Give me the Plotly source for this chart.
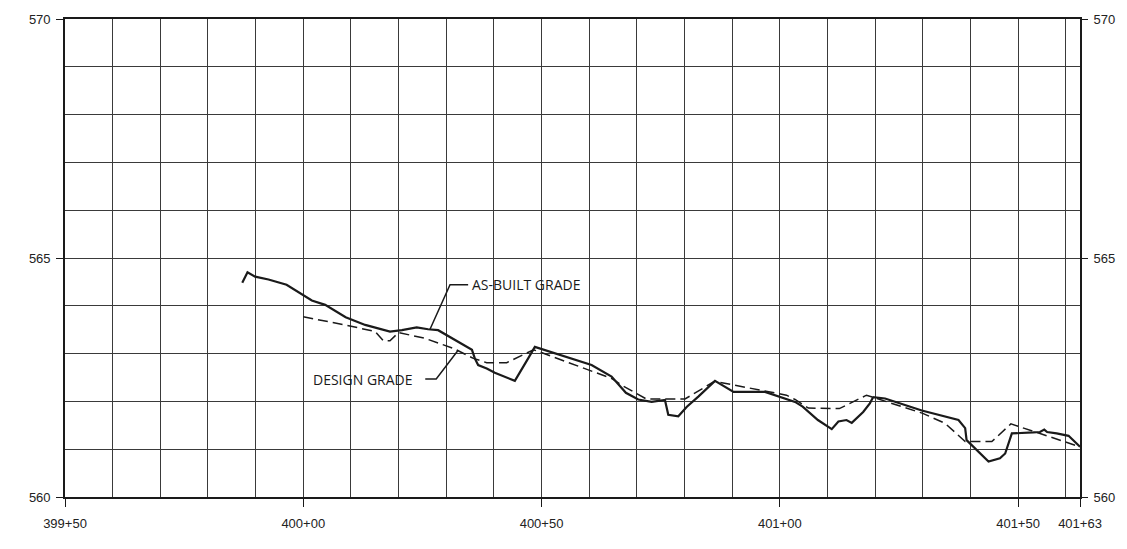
import plotly.graph_objects as go

# ---- data (station in ft, elevation in ft) ----
asbuilt_sta = [39987.2, 39988.3, 39989.9, 39992.7, 39996.5, 40000.8, 40001.8, 40004.6, 40008.9,
               40013.0, 40018.2, 40020.7, 40023.8, 40026.2, 40028.3, 40035.4, 40036.0, 40036.7,
               40038.5, 40040.2, 40044.4, 40047.2, 40048.6, 40060.5, 40064.7, 40067.7, 40070.3,
               40073.1, 40075.9, 40076.6, 40078.7, 40080.5, 40082.9, 40086.4, 40090.3, 40096.9,
               40103.2, 40104.8, 40108.0, 40110.9, 40112.3, 40114.0, 40115.1, 40117.5, 40118.9,
               40119.6, 40122.1, 40129.8, 40137.5, 40138.9, 40139.2, 40143.8, 40146.2, 40147.3,
               40148.7, 40153.2, 40154.6, 40155.5, 40156.1, 40158.1, 40160.6, 40163.0]
asbuilt_elev = [564.48, 564.70, 564.61, 564.55, 564.44, 564.18, 564.11, 564.02, 563.76,
                563.60, 563.46, 563.49, 563.55, 563.51, 563.49, 563.08, 562.90, 562.76,
                562.69, 562.60, 562.43, 562.90, 563.14, 562.76, 562.52, 562.18, 562.04,
                561.99, 562.03, 561.72, 561.69, 561.89, 562.10, 562.43, 562.20, 562.20,
                561.99, 561.89, 561.61, 561.42, 561.58, 561.61, 561.55, 561.78, 561.96,
                562.09, 562.06, 561.81, 561.61, 561.44, 561.19, 560.74, 560.81, 560.91,
                561.33, 561.35, 561.36, 561.41, 561.36, 561.33, 561.28, 561.05]

design_sta = [40000.0, 40008.8, 40015.1, 40016.8, 40018.2, 40020.0, 40025.5, 40031.5, 40035.7,
              40038.5, 40042.7, 40048.3, 40049.2, 40064.7, 40066.8, 40072.0, 40080.1, 40086.3,
              40101.4, 40103.2, 40106.0, 40112.5, 40118.2, 40130.0, 40134.7, 40138.9, 40144.5,
              40148.5, 40163.0]
design_elev = [563.77, 563.60, 563.46, 563.27, 563.27, 563.44, 563.32, 563.11, 562.90,
               562.81, 562.81, 563.08, 563.05, 562.48, 562.34, 562.05, 562.05, 562.42,
               562.13, 562.04, 561.86, 561.85, 562.13, 561.75, 561.54, 561.16, 561.16,
               561.53, 561.05]

x_tickvals = [39950, 40000, 40050, 40100, 40150, 40163]
x_ticktext = ["399+50", "400+00", "400+50", "401+00", "401+50", "401+63"]
y_tickvals = [560, 565, 570]
y_ticktext = ["560", "565", "570"]

# label leader lines (data units)
asbuilt_label = "AS-BUILT GRADE"
asbuilt_label_pos = (40035.0, 564.44)
asbuilt_leader_x = [40034.6, 40030.8, 40026.6]
asbuilt_leader_y = [564.44, 564.44, 563.51]

design_label = "DESIGN GRADE"
design_label_pos = (40023.4, 562.46)
design_leader_x = [40025.6, 40027.9, 40032.5]
design_leader_y = [562.47, 562.47, 563.07]

GRID = "#3a3a3a"
INK = "#1a1a1a"

fig = go.Figure()
fig.add_trace(go.Scatter(x=design_sta, y=design_elev, mode="lines",
                         line=dict(color=INK, width=1.5, dash="10px,5px"),
                         hoverinfo="skip", showlegend=False))
fig.add_trace(go.Scatter(x=asbuilt_sta, y=asbuilt_elev, mode="lines",
                         line=dict(color=INK, width=2.2), showlegend=False))
fig.add_trace(go.Scatter(x=asbuilt_leader_x, y=asbuilt_leader_y, mode="lines",
                         line=dict(color=INK, width=1.5), hoverinfo="skip", showlegend=False))
fig.add_trace(go.Scatter(x=design_leader_x, y=design_leader_y, mode="lines",
                         line=dict(color=INK, width=1.5), hoverinfo="skip", showlegend=False,
                         yaxis="y2"))

fig.add_annotation(x=asbuilt_label_pos[0], y=asbuilt_label_pos[1], text=asbuilt_label,
                   showarrow=False, xanchor="left", yanchor="middle",
                   font=dict(family="Open Sans", size=14, color=INK))
fig.add_annotation(x=design_label_pos[0], y=design_label_pos[1], text=design_label,
                   showarrow=False, xanchor="right", yanchor="middle",
                   font=dict(family="Open Sans", size=14, color=INK))

tickfont = dict(family="Liberation Sans", size=13, color="#222")

fig.update_layout(
    width=1119, height=541,
    margin=dict(l=57, r=47, t=11, b=52, autoexpand=False),
    paper_bgcolor="white", plot_bgcolor="white",
    xaxis=dict(range=[39950, 40163], tickmode="array", tickvals=x_tickvals, ticktext=x_ticktext,
               showgrid=True, gridcolor=GRID, gridwidth=1.4, automargin=False,
               minor=dict(tick0=39950, dtick=10, showgrid=True, gridcolor=GRID, gridwidth=1.4, ticks=""),
               ticks="outside", ticklen=8, tickcolor=INK, tickwidth=1.3,
               showline=True, linecolor=INK, linewidth=1.6, mirror=True,
               zeroline=False, tickfont=tickfont, ticklabelstandoff=6),
    yaxis=dict(range=[560, 570], tickmode="array", tickvals=y_tickvals, ticktext=y_ticktext,
               showgrid=True, gridcolor=GRID, gridwidth=1.4, automargin=False,
               minor=dict(tick0=560, dtick=1, showgrid=True, gridcolor=GRID, gridwidth=1.4, ticks=""),
               ticks="outside", ticklen=7, tickcolor=INK, tickwidth=1.3,
               showline=True, linecolor=INK, linewidth=1.6, mirror=True,
               zeroline=False, tickfont=tickfont, ticklabelstandoff=3),
    yaxis2=dict(range=[560, 570], overlaying="y", side="right", tickmode="array",
                tickvals=y_tickvals, ticktext=y_ticktext, showgrid=False, automargin=False,
                ticks="outside", ticklen=7, tickcolor=INK, tickwidth=1.3,
                showline=False, zeroline=False, tickfont=tickfont, ticklabelstandoff=3),
)

fig.write_html("out.html")
